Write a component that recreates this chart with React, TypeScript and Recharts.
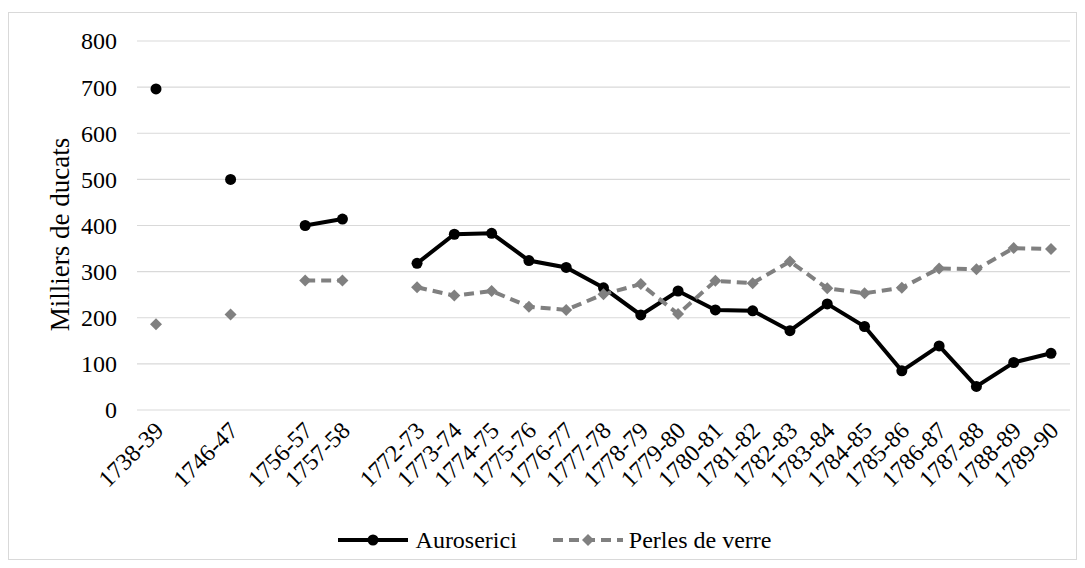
import React from "react";
import { LineChart, Line, XAxis, YAxis, CartesianGrid, Legend } from "recharts";

const periods = [
  "1738-39", "", "1746-47", "", "1756-57", "1757-58", "",
  "1772-73", "1773-74", "1774-75", "1775-76", "1776-77", "1777-78",
  "1778-79", "1779-80", "1780-81", "1781-82", "1782-83", "1783-84",
  "1784-85", "1785-86", "1786-87", "1787-88", "1788-89", "1789-90",
];

const auroserici = [
  696, null, 500, null, 400, 414, null,
  318, 381, 383, 324, 309, 265, 206, 258, 217, 215, 172, 230, 181, 85, 139, 51, 103, 123,
];

const perlesDeVerre = [
  186, null, 207, null, 281, 281, null,
  266, 248, 258, 224, 217, 251, 273, 208, 280, 275, 322, 264, 253, 265, 307, 305, 351, 349,
];

const yTicks = [0, 100, 200, 300, 400, 500, 600, 700, 800];

const data = periods.map((period, i) => ({
  period,
  auroserici: auroserici[i],
  perles: perlesDeVerre[i],
}));

const FONT = '"Liberation Serif", "Times New Roman", serif';
const BLACK = "#000000";
const GREY = "#808080";

// rotated category labels, blank periods get no label
const AngledTick = (props: any) => {
  const { x, y, payload } = props;
  if (!payload.value) return null;
  const ax = x + 3;
  const ay = y + 14;
  return (
    <text
      x={ax}
      y={ay}
      dy="0.35em"
      textAnchor="end"
      transform={`rotate(-45 ${ax} ${ay})`}
      fill={BLACK}
      style={{ fontFamily: FONT, fontSize: 24 }}
    >
      {payload.value}
    </text>
  );
};

const ValueTick = (props: any) => {
  const { x, y, payload } = props;
  return (
    <text
      x={x}
      y={y}
      dy="0.35em"
      textAnchor="end"
      fill={BLACK}
      style={{ fontFamily: FONT, fontSize: 24 }}
    >
      {payload.value}
    </text>
  );
};

const CircleDot = (props: any) => {
  const { cx, cy, index, value } = props;
  if (value == null || cx == null || cy == null) return <g key={index} />;
  return <circle key={index} cx={cx} cy={cy} r={5.5} fill={BLACK} />;
};

const DiamondDot = (props: any) => {
  const { cx, cy, index, value } = props;
  if (value == null || cx == null || cy == null) return <g key={index} />;
  const s = 6;
  return (
    <path
      key={index}
      d={`M${cx},${cy - s}L${cx + s},${cy}L${cx},${cy + s}L${cx - s},${cy}Z`}
      fill={GREY}
    />
  );
};

const renderLegend = () => (
  <div
    style={{
      height: 60,
      display: "flex",
      justifyContent: "center",
      alignItems: "center",
      paddingLeft: 30,
      paddingTop: 22,
      boxSizing: "border-box",
      fontFamily: FONT,
      fontSize: 24,
      color: BLACK,
    }}
  >
    <svg width={70} height={14} style={{ marginRight: 8 }}>
      <line x1={0} y1={7} x2={70} y2={7} stroke={BLACK} strokeWidth={4} />
      <circle cx={35} cy={7} r={5.5} fill={BLACK} />
    </svg>
    <span style={{ marginRight: 36 }}>Auroserici</span>
    <svg width={70} height={14} style={{ marginRight: 6 }}>
      <line x1={0} y1={7} x2={70} y2={7} stroke={GREY} strokeWidth={4} strokeDasharray="10 6" />
      <path d="M35,1L41,7L35,13L29,7Z" fill={GREY} />
    </svg>
    <span>Perles de verre</span>
  </div>
);

export default function App() {
  return (
    <div
      style={{
        width: 1067,
        height: 546,
        marginTop: 4,
        border: "1px solid #d9d9d9",
        background: "#ffffff",
        fontFamily: FONT,
      }}
    >
      <LineChart
        width={1067}
        height={546}
        data={data}
        margin={{ top: 28, right: 6, left: 0, bottom: 0 }}
        style={{ fontFamily: FONT }}
      >
        <CartesianGrid vertical={false} stroke="#d9d9d9" strokeWidth={1.2} />
        <XAxis
          dataKey="period"
          interval={0}
          axisLine={false}
          tickLine={false}
          tickSize={0}
          height={89}
          padding={{ left: 19, right: 19 }}
          tick={<AngledTick />}
        />
        <YAxis
          domain={[0, 800]}
          ticks={yTicks}
          width={128}
          axisLine={false}
          tickLine={false}
          tickSize={0}
          tickMargin={20}
          tick={<ValueTick />}
          label={(p: any) => {
            const vb = p.viewBox;
            const cx = vb.x + 51;
            const cy = vb.y + vb.height / 2 + 9;
            return (
              <text
                x={cx}
                y={cy}
                textAnchor="middle"
                dominantBaseline="central"
                transform={`rotate(-90 ${cx} ${cy})`}
                fill={BLACK}
                style={{ fontFamily: FONT, fontSize: 27 }}
              >
                Milliers de ducats
              </text>
            );
          }}
        />
        <Legend verticalAlign="bottom" height={60} content={renderLegend} />
        <Line
          dataKey="auroserici"
          name="Auroserici"
          stroke={BLACK}
          strokeWidth={4}
          dot={<CircleDot />}
          activeDot={false}
          isAnimationActive={false}
        />
        <Line
          dataKey="perles"
          name="Perles de verre"
          stroke={GREY}
          strokeWidth={4}
          strokeDasharray="10 6"
          dot={<DiamondDot />}
          activeDot={false}
          isAnimationActive={false}
        />
      </LineChart>
    </div>
  );
}
